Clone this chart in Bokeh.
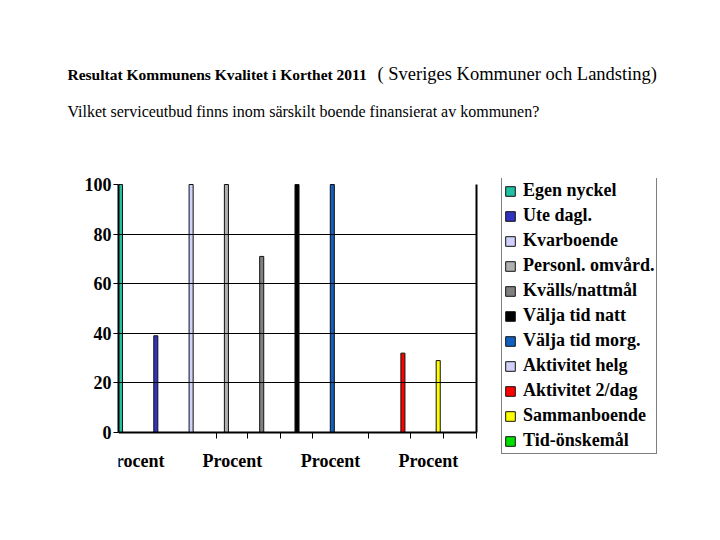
from bokeh.plotting import figure
from bokeh.models import (Range1d, FixedTicker, Label, Legend, LegendItem, LinearAxis, ColumnDataSource)
from bokeh.embed import file_html
from bokeh.resources import INLINE

categories = ["Egen nyckel", "Ute dagl.", "Kvarboende", "Personl. omvård.", "Kvälls/nattmål",
              "Välja tid natt", "Välja tid morg.", "Aktivitet helg", "Aktivitet 2/dag",
              "Sammanboende", "Tid-önskemål"]
values = [100, 39, 100, 100, 71, 100, 100, 0, 32, 29, 0]
colors = ["#20c0a0", "#3333c0", "#d0d0ff", "#b0b0b0", "#808080", "#000000",
          "#1060c0", "#d0d0f8", "#ff0000", "#ffff00", "#00e000"]
yticks = [0, 20, 40, 60, 80, 100]
grid_values = [20, 40, 60, 80]
group_label = "Procent"
group_positions = [0.40, 3.17, 5.95, 8.72]
minor_positions = [-0.06, 2.72, 3.60, 4.53, 5.44, 7.03, 8.22, 9.15, 10.08]
title_bold = "Resultat Kommunens Kvalitet i Korthet 2011"
title_rest = "( Sveriges Kommuner och Landsting)"
subtitle = "Vilket serviceutbud finns inom  särskilt boende finansierat av kommunen?"

FONT = "Liberation Serif"

X0, XB = -0.057, 10.08          # plot area left edge / right border (data units)
X1 = X0 + 544 / 35.3            # frame extends right to hold the legend
Y0, Y1 = -38 / 2.48, 100 + 6 / 2.48

p = figure(width=704, height=524, output_backend="svg", toolbar_location=None,
           x_range=Range1d(X0, X1), y_range=Range1d(Y0, Y1),
           min_border_left=118, min_border_right=42, min_border_top=178,
           min_border_bottom=54)
p.outline_line_color = None
p.background_fill_color = "white"
p.border_fill_color = "white"
p.grid.visible = False

items = []
for i, (c, v, col) in enumerate(zip(categories, values, colors)):
    src = ColumnDataSource(dict(x=[i], top=[v]))
    r = p.vbar(x="x", top="top", bottom=0, width=0.115, source=src,
               fill_color=col, line_color="#111111", line_width=1)
    items.append(LegendItem(label=c, renderers=[r]))

# y axis (minor ticks drawn inward serve as the horizontal grid lines)
p.yaxis.ticker = FixedTicker(ticks=yticks, minor_ticks=grid_values)
p.yaxis.bounds = (0, 100)
p.yaxis.axis_line_width = 2
p.yaxis.axis_line_color = "black"
p.yaxis.major_tick_out = 5
p.yaxis.major_tick_in = 0
p.yaxis.major_tick_line_width = 1
p.yaxis.minor_tick_out = 0
p.yaxis.minor_tick_in = int(round((XB - X0) * 35.3))
p.yaxis.minor_tick_line_color = "black"
p.yaxis.minor_tick_line_width = 1
p.yaxis.major_label_text_font = FONT
p.yaxis.major_label_text_font_style = "bold"
p.yaxis.major_label_text_font_size = "18px"
p.yaxis.major_label_text_color = "black"
p.yaxis.major_label_standoff = 2

# x axis at y = 0
p.xaxis.fixed_location = 0
p.xaxis.bounds = (X0, XB)
p.xaxis.ticker = FixedTicker(ticks=group_positions, minor_ticks=minor_positions)
p.xaxis.major_label_overrides = {t: group_label for t in group_positions}
p.xaxis.axis_line_width = 2
p.xaxis.axis_line_color = "black"
p.xaxis.major_tick_out = 0
p.xaxis.major_tick_in = 0
p.xaxis.minor_tick_out = 6
p.xaxis.minor_tick_in = 0
p.xaxis.minor_tick_line_color = "black"
p.xaxis.major_label_text_font = FONT
p.xaxis.major_label_text_font_style = "bold"
p.xaxis.major_label_text_font_size = "18px"
p.xaxis.major_label_text_color = "black"
p.xaxis.major_label_standoff = 12

# right border of plot area
border = LinearAxis(fixed_location=XB, bounds=(0, 100), ticker=FixedTicker(ticks=[]),
                    axis_line_width=2, axis_line_color="black",
                    major_tick_line_color=None, minor_tick_line_color=None,
                    major_label_text_color=None)
p.add_layout(border, "right")

legend = Legend(items=items, location=(383, 16))
legend.label_text_font = FONT
legend.label_text_font_style = "bold"
legend.label_text_font_size = "18px"
legend.label_text_color = "black"
legend.glyph_width = 12
legend.glyph_height = 12
legend.label_standoff = 7
legend.spacing = 4
legend.padding = 2
legend.margin = 0
legend.border_line_color = "black"
legend.border_line_width = 1
legend.background_fill_color = "white"
legend.background_fill_alpha = 1
p.add_layout(legend, "center")

p.add_layout(Label(x=-51, y=104, x_units="screen", y_units="screen", text=title_bold,
                   text_font=FONT, text_font_style="bold", text_font_size="15.5px",
                   text_color="black", text_baseline="alphabetic"), "above")
p.add_layout(Label(x=259, y=88, x_units="screen", y_units="screen", text=title_rest,
                   text_font=FONT, text_font_size="18.5px",
                   text_color="black", text_baseline="alphabetic"), "above")
p.add_layout(Label(x=-51, y=30, x_units="screen", y_units="screen", text=subtitle,
                   text_font=FONT, text_font_size="16px",
                   text_color="black", text_baseline="alphabetic"), "above")

open("out.html", "w").write(file_html(p, INLINE))
